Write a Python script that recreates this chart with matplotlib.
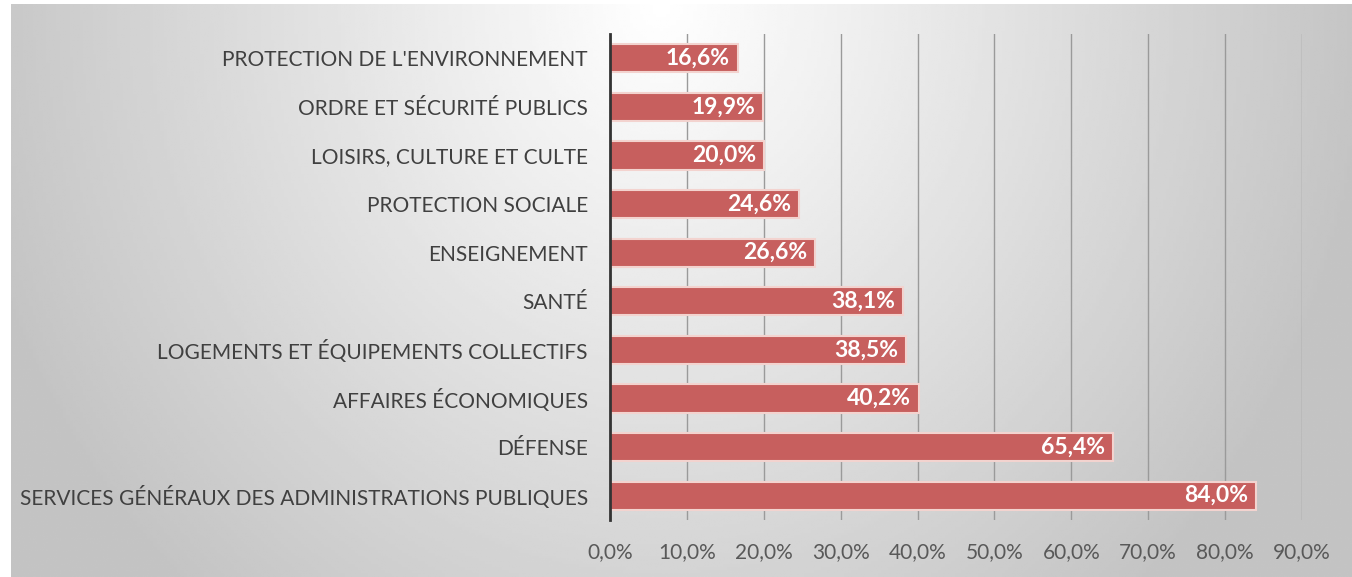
import numpy as np
import matplotlib.pyplot as plt

categories = [
    "SERVICES GÉNÉRAUX DES ADMINISTRATIONS PUBLIQUES",
    "DÉFENSE",
    "AFFAIRES ÉCONOMIQUES",
    "LOGEMENTS ET ÉQUIPEMENTS COLLECTIFS",
    "SANTÉ",
    "ENSEIGNEMENT",
    "PROTECTION SOCIALE",
    "LOISIRS, CULTURE ET CULTE",
    "ORDRE ET SÉCURITÉ PUBLICS",
    "PROTECTION DE L'ENVIRONNEMENT",
]
values = [84.0, 65.4, 40.2, 38.5, 38.1, 26.6, 24.6, 20.0, 19.9, 16.6]
xticks = [0, 10, 20, 30, 40, 50, 60, 70, 80, 90]

plt.rcParams['font.family'] = ['Lato', 'DejaVu Sans']


def fmt(v):
    return f"{v:.1f}%".replace('.', ',')


fig = plt.figure(figsize=(13.52, 5.77), dpi=100)

# grey gradient panel behind the chart (light in the top centre)
bg = fig.add_axes([11 / 1352, 0, 1341 / 1352, 573 / 577])
gx, gy = np.meshgrid(np.linspace(-1, 1, 400), np.linspace(0, 1, 200))
r = np.sqrt((gx + 0.03) ** 2 + (gy / 1.3) ** 2)
shade = 1.0 - 0.22 * np.clip(r, 0, 1.05)
bg.imshow(shade, cmap='gray', vmin=0, vmax=1, aspect='auto', origin='upper',
          extent=[0, 1, 0, 1])
bg.axis('off')

ax = fig.add_axes([610 / 1352, 1 - 520 / 577, 692 / 1352, 486 / 577])
ax.patch.set_alpha(0)
y = np.arange(len(categories))
ax.barh(y, values, height=0.58, color='#c75f5e', edgecolor='#f3d3cf',
        linewidth=1.5, zorder=3)
for yi, v in zip(y, values):
    ax.text(v - 1.0, yi, fmt(v), ha='right', va='center', color='white',
            fontsize=16.5, fontweight='bold', zorder=4)

ax.set_xlim(0, 90)
ax.set_ylim(-0.5, len(categories) - 0.5)
ax.set_xticks(xticks)
ax.set_xticklabels([fmt(t) for t in xticks], fontsize=15, color='#595959')
ax.set_yticks(y)
ax.set_yticklabels(categories, fontsize=15, color='#404040')
ax.tick_params(axis='both', length=0)
ax.tick_params(axis='x', pad=16)
ax.tick_params(axis='y', pad=16)
ax.grid(axis='x', color='#9a9a9a', linewidth=1, zorder=0)
for s in ['top', 'right', 'bottom']:
    ax.spines[s].set_visible(False)
ax.spines['left'].set_color('#333333')
ax.spines['left'].set_linewidth(2)
ax.spines['left'].set_zorder(5)

fig.savefig('out.png', dpi=100)
